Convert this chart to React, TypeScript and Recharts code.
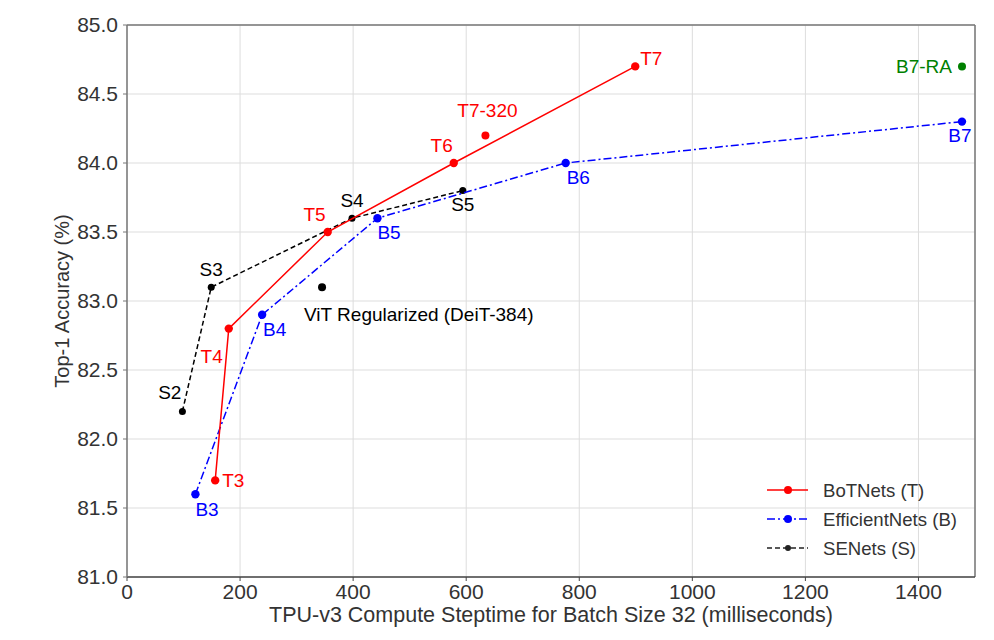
import React from 'react'
import {
  CartesianGrid,
  Legend,
  ReferenceLine,
  Scatter,
  ScatterChart,
  XAxis,
  YAxis,
} from 'recharts'

const FONT = '"Liberation Sans", Arial, Helvetica, sans-serif'
const TEXT = '#333333'

// BoTNets (T)
const botLabels = ['T3', 'T4', 'T5', 'T6', 'T7']
const botTime = [156, 180, 355, 578, 899]
const botAcc = [81.7, 82.8, 83.5, 84.0, 84.7]

// EfficientNets (B)
const effLabels = ['B3', 'B4', 'B5', 'B6', 'B7']
const effTime = [121, 239, 443, 776, 1477]
const effAcc = [81.6, 82.9, 83.6, 84.0, 84.3]

// SENets (S)
const seLabels = ['S2', 'S3', 'S4', 'S5']
const seTime = [98, 149, 398, 594]
const seAcc = [82.2, 83.1, 83.6, 83.8]

// single points
const extraLabels = ['T7-320', 'ViT Regularized (DeiT-384)', 'B7-RA']
const extraTime = [634, 345, 1477]
const extraAcc = [84.2, 83.1, 84.7]
const extraColors = ['#ff0000', '#000000', '#008000']

const xTicks = [0, 200, 400, 600, 800, 1000, 1200, 1400]
const yTicks = [81, 81.5, 82, 82.5, 83, 83.5, 84, 84.5, 85]

// label placement relative to the marker: [dx, dy, anchor]
const labelPos: Record<string, [number, number, string]> = {
  T3: [7, 0, 'start'],
  T4: [-6, 28, 'end'],
  T5: [-2, -18, 'end'],
  T6: [-1, -18, 'end'],
  T7: [5, -8, 'start'],
  B3: [0, 15, 'start'],
  B4: [1, 15, 'start'],
  B5: [0, 14, 'start'],
  B6: [1, 14, 'start'],
  B7: [-2, 14, 'middle'],
  S2: [-1, -19, 'end'],
  S3: [0, -18, 'middle'],
  S4: [0, -18, 'middle'],
  S5: [0, 14, 'middle'],
  'T7-320': [2, -25, 'middle'],
  'ViT Regularized (DeiT-384)': [-18, 27, 'start'],
  'B7-RA': [-10, 0, 'end'],
}

const toRows = (labels: string[], xs: number[], ys: number[], colors?: string[]) =>
  labels.map((name, i) => ({ name, x: xs[i], y: ys[i], color: colors ? colors[i] : undefined }))

const botData = toRows(botLabels, botTime, botAcc)
const effData = toRows(effLabels, effTime, effAcc)
const seData = toRows(seLabels, seTime, seAcc)
const extraData = toRows(extraLabels, extraTime, extraAcc, extraColors)

function makeShape(color: string, r: number) {
  return (props: any) => {
    const { cx, cy, payload } = props
    if (cx == null || cy == null) return <g />
    const c = payload.color ?? color
    const [dx, dy, anchor] = labelPos[payload.name] ?? [0, -14, 'middle']
    return (
      <g>
        <circle cx={cx} cy={cy} r={r} fill={c} stroke="none" />
        <text
          x={cx + dx}
          y={cy + dy}
          textAnchor={anchor as any}
          dominantBaseline="central"
          fill={c}
          fontSize={19}
          fontFamily={FONT}
        >
          {payload.name}
        </text>
      </g>
    )
  }
}

const legendItems = [
  { label: 'BoTNets (T)', color: '#ff0000', dash: undefined, r: 4 },
  { label: 'EfficientNets (B)', color: '#0000ff', dash: '8 3 2 3', r: 4 },
  { label: 'SENets (S)', color: '#222222', dash: '5 3', r: 3 },
]

function ChartLegend() {
  return (
    <svg width={230} height={90}>
      {legendItems.map((item, i) => {
        const y = 12 + i * 29
        return (
          <g key={item.label}>
            <line
              x1={7}
              x2={48}
              y1={y}
              y2={y}
              stroke={item.color}
              strokeWidth={1.6}
              strokeDasharray={item.dash}
            />
            <circle cx={28} cy={y} r={item.r} fill={item.color} />
            <text
              x={63}
              y={y}
              dominantBaseline="central"
              fontSize={18.6}
              fontFamily={FONT}
              fill={TEXT}
            >
              {item.label}
            </text>
          </g>
        )
      })}
    </svg>
  )
}

export default function App() {
  return (
    <div style={{ position: 'absolute', left: 0, top: 0, width: 994, height: 640, background: '#fff' }}>
      <ScatterChart width={994} height={640} margin={{ top: 25, right: 19, bottom: 0, left: 0 }}>
        <CartesianGrid stroke="#dddddd" strokeWidth={1} />
        <XAxis
          type="number"
          dataKey="x"
          domain={[0, 1500]}
          ticks={xTicks}
          height={63}
          tickSize={4}
          tickMargin={3}
          tick={{ fontSize: 21, fill: TEXT, fontFamily: FONT }}
          axisLine={{ stroke: '#444', strokeWidth: 1.3 }}
          tickLine={{ stroke: '#444' }}
          label={{
            value: 'TPU-v3 Compute Steptime for Batch Size 32 (milliseconds)',
            position: 'insideBottom',
            offset: 18,
            fill: TEXT,
            fontSize: 21.5,
            fontFamily: FONT,
          }}
        />
        <YAxis
          type="number"
          dataKey="y"
          domain={[81, 85]}
          ticks={yTicks}
          width={127}
          tickSize={4}
          tickMargin={5}
          tickFormatter={(v: number) => v.toFixed(1)}
          tick={{ fontSize: 21, fill: TEXT, fontFamily: FONT }}
          axisLine={{ stroke: '#777', strokeWidth: 1.5 }}
          tickLine={{ stroke: '#777' }}
          label={{
            value: 'Top-1 Accuracy (%)',
            angle: -90,
            position: 'insideLeft',
            offset: 62,
            style: { textAnchor: 'middle' },
            fill: TEXT,
            fontSize: 20,
            fontFamily: FONT,
          }}
        />
        <ReferenceLine y={85} stroke="#777" strokeWidth={1.5} />
        <ReferenceLine x={1500} stroke="#777" strokeWidth={1.5} />
        <Scatter
          name="SENets (S)"
          data={seData}
          isAnimationActive={false}
          line={{ stroke: '#000', strokeWidth: 1.5, strokeDasharray: '5 3' }}
          lineType="joint"
          shape={makeShape('#000000', 3.5)}
        />
        <Scatter
          name="EfficientNets (B)"
          data={effData}
          isAnimationActive={false}
          line={{ stroke: '#0000ff', strokeWidth: 1.5, strokeDasharray: '8 3 2 3' }}
          lineType="joint"
          shape={makeShape('#0000ff', 4.2)}
        />
        <Scatter
          name="BoTNets (T)"
          data={botData}
          isAnimationActive={false}
          line={{ stroke: '#ff0000', strokeWidth: 1.5 }}
          lineType="joint"
          shape={makeShape('#ff0000', 4.2)}
        />
        <Scatter
          name="extra"
          data={extraData}
          isAnimationActive={false}
          shape={makeShape('#000000', 4)}
        />
        <Legend
          verticalAlign="middle"
          align="center"
          layout="horizontal"
          content={() => <ChartLegend />}
          wrapperStyle={{ position: 'absolute', left: 760, top: 478, width: 230, height: 90 }}
        />
      </ScatterChart>
    </div>
  )
}
